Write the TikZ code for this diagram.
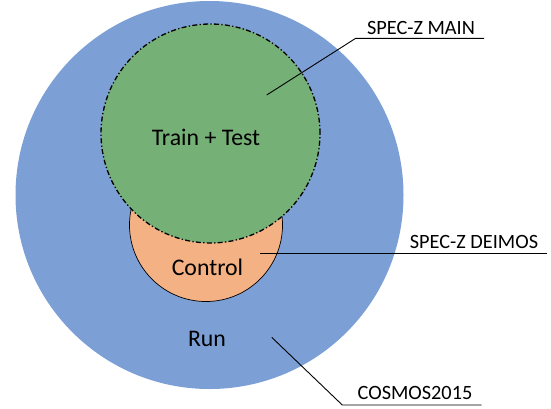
\documentclass[tikz,border=0pt]{standalone}
\usepackage{fontspec}
\setmainfont{Carlito}
\definecolor{runblue}{RGB}{124,159,214}
\definecolor{maingreen}{RGB}{117,176,118}
\definecolor{deimosorange}{RGB}{244,177,131}
\tikzset{
  set/.style={circle, inner sep=0pt, outer sep=0pt},
  inlabel/.style={anchor=base, font=\fontsize{23.8}{27}\selectfont, inner sep=0pt},
  sidelabel/.style={anchor=base, font=\fontsize{20.3}{24}\selectfont, inner sep=0pt},
  leader/.style={draw=black, line width=0.9pt},
}
\begin{document}
\begin{tikzpicture}[x=1pt, y=-1pt]
  \useasboundingbox (0,0) rectangle (551,408);
  % COSMOS2015 catalogue
  \node[set, fill=runblue, minimum size=388pt] (cosmos) at (209.5,195) {};
  % DEIMOS spectroscopic subset
  \node[set, fill=deimosorange, draw=black, line width=0.7pt, minimum size=153pt] (deimos) at (206,225) {};
  % main spectroscopic subset
  \node[set, fill=maingreen, draw=black, line width=1.3pt,
        dash pattern=on 5pt off 2.3pt on 1.3pt off 2.3pt, minimum size=219pt] (main) at (210.5,133.5) {};

  % labels inside the sets
  \node[inlabel] (traintest) at (206,145.5) {Train + Test};
  \node[inlabel] (control) at (207.5,275) {Control};
  \node[inlabel] (run) at (207,346.5) {Run};

  % callout labels
  \node[sidelabel] (lmain) at (421,34.3) {SPEC-Z MAIN};
  \node[sidelabel] (ldeimos) at (474,248.7) {SPEC-Z DEIMOS};
  \node[sidelabel] (lcosmos) at (415,399.3) {COSMOS2015};

  % callout leaders
  \coordinate (pmain) at (266.7,95);
  \coordinate (kmain) at (355.7,38.3);
  \coordinate (emain) at (484,38.3);
  \draw[leader] (pmain) -- (kmain) -- (emain);

  \coordinate (pdeimos) at (260,253.3);
  \coordinate (edeimos) at (547,253.3);
  \draw[leader] (pdeimos) -- (edeimos);

  \coordinate (pcosmos) at (271.7,337.3);
  \coordinate (kcosmos) at (342.3,405);
  \coordinate (ecosmos) at (481.7,405);
  \draw[leader] (pcosmos) -- (kcosmos) -- (ecosmos);
\end{tikzpicture}
\end{document}
